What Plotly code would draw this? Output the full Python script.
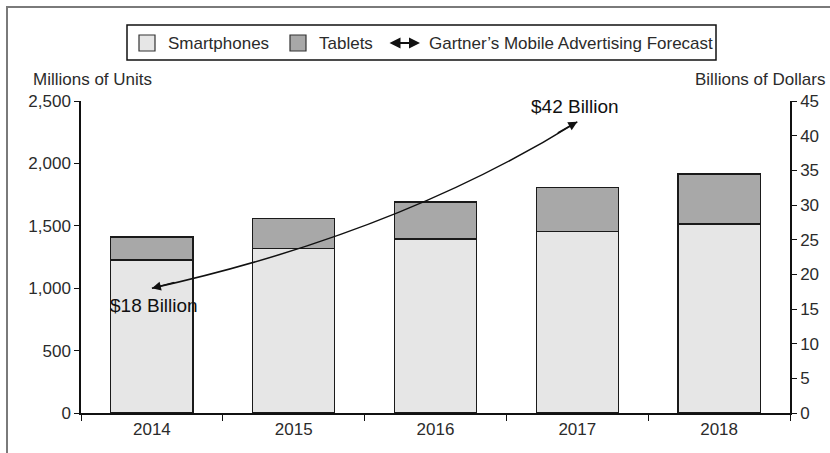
import plotly.graph_objects as go

# Shipments (millions of units) and ad-spend forecast (billions of dollars)
years = ["2014", "2015", "2016", "2017", "2018"]
smartphones = [1225, 1320, 1395, 1455, 1515]
tablets = [185, 240, 295, 350, 400]
forecast_years = ["2014", "2017"]
forecast_billions = [18, 42]

W, H = 830, 453
ML, MR, MT, MB = 81, 40, 101, 40
PW, PH = W - ML - MR, H - MT - MB

FONT = "Liberation Sans, Arial, sans-serif"
TXT = "#2b2b2b"
SMART_FILL = "#e6e6e6"
TAB_FILL = "#a8a8a8"
EDGE = "#1a1a1a"
INK = "#111"


def px(x):
    """pixel column -> paper x"""
    return (x - ML) / PW


def py(y):
    """pixel row -> paper y"""
    return (H - MB - y) / PH


fig = go.Figure()
fig.add_bar(x=years, y=smartphones, name="Smartphones", width=0.58,
            marker=dict(color=SMART_FILL, line=dict(color=EDGE, width=1.3)),
            showlegend=False)
fig.add_bar(x=years, y=tablets, name="Tablets", width=0.58,
            marker=dict(color=TAB_FILL, line=dict(color=EDGE, width=1.3)),
            showlegend=False)
# invisible trace that activates the right-hand dollar axis
fig.add_scatter(x=forecast_years, y=forecast_billions, yaxis="y2", mode="lines",
                line=dict(width=0), hoverinfo="skip", showlegend=False)

# curved forecast arrow between the two forecast points (index positions on the category axis)
x0 = years.index(forecast_years[0])
x1 = years.index(forecast_years[1])
y0, y1 = forecast_billions
cx, cy = x0 + 0.58 * (x1 - x0), y0 + 0.33 * (y1 - y0)   # bend toward lower right
shapes = [dict(type="path", xref="x", yref="y2",
               path=f"M {x0},{y0} Q {cx},{cy} {x1},{y1}",
               line=dict(color=INK, width=1.5))]

head = dict(text="", showarrow=True, arrowhead=2, arrowsize=1.2, arrowwidth=1.5,
            arrowcolor=INK, standoff=0, font=dict(size=1))
annotations = [
    dict(x=x0, y=y0, xref="x", yref="y2", ax=24, ay=-6, **head),
    dict(x=x1, y=y1, xref="x", yref="y2", ax=-21, ay=12, **head),
    dict(x=x0, y=y0, xref="x", yref="y2", text=f"${y0} Billion",
         showarrow=False, yshift=-17, xshift=2, font=dict(size=19, color=INK)),
    dict(x=x1, y=y1, xref="x", yref="y2", text=f"${y1} Billion",
         showarrow=False, yshift=15, xshift=-2, font=dict(size=19, color=INK)),
    # axis captions
    dict(x=px(31), y=py(79), xref="paper", yref="paper", text="Millions of Units",
         showarrow=False, xanchor="left", yanchor="middle", font=dict(size=17, color=TXT)),
    dict(x=px(827), y=py(79), xref="paper", yref="paper", text="Billions of Dollars",
         showarrow=False, xanchor="right", yanchor="middle", font=dict(size=17, color=TXT)),
]

# legend drawn as a boxed row
shapes += [
    dict(type="rect", xref="paper", yref="paper", x0=px(127), x1=px(716), y0=py(25), y1=py(60),
         line=dict(color=INK, width=1.5), fillcolor="white"),
    dict(type="rect", xref="paper", yref="paper", x0=px(139), x1=px(155), y0=py(35), y1=py(51),
         line=dict(color="#333", width=1.2), fillcolor=SMART_FILL),
    dict(type="rect", xref="paper", yref="paper", x0=px(290), x1=px(306), y0=py(35), y1=py(51),
         line=dict(color="#333", width=1.2), fillcolor=TAB_FILL),
]
for lx, label in [(166, "Smartphones"), (317, "Tablets"),
                  (427, "Gartner\u2019s Mobile Advertising Forecast")]:
    annotations.append(dict(x=px(lx), y=py(43), xref="paper", yref="paper", text=label,
                            showarrow=False, xanchor="left", yanchor="middle",
                            font=dict(size=17, color=TXT)))
# double-headed legend key
annotations.append(dict(x=px(420), y=py(43), xref="paper", yref="paper", ax=-32, ay=0,
                        text="", showarrow=True, arrowside="end+start", arrowhead=2,
                        startarrowhead=2, arrowsize=1.1, startarrowsize=1.1, arrowwidth=2,
                        arrowcolor=INK, standoff=0, startstandoff=0, font=dict(size=1)))

# outer frame
shapes.append(dict(type="rect", xref="paper", yref="paper", x0=px(7), x1=px(845),
                   y0=py(470), y1=py(7), line=dict(color="#7a7a7a", width=2),
                   fillcolor="rgba(0,0,0,0)", layer="below"))

axis_common = dict(showline=True, linecolor=INK, linewidth=1.5, ticks="outside",
                   tickcolor=INK, tickwidth=1.3, showgrid=False, zeroline=False,
                   tickfont=dict(size=17, color=TXT))

fig.update_layout(
    width=W, height=H, margin=dict(l=ML, r=MR, t=MT, b=MB),
    paper_bgcolor="white", plot_bgcolor="white",
    barmode="stack", bargap=0.42,
    font=dict(family=FONT, color=TXT),
    xaxis=dict(**axis_common, type="category", range=[-0.5, 4.5], tickson="boundaries",
               ticklen=6),
    yaxis=dict(**axis_common, range=[0, 2500], dtick=500, tickformat=",", ticklen=5),
    yaxis2=dict(**axis_common, range=[0, 45], dtick=5, ticklen=5, overlaying="y",
                side="right"),
    shapes=shapes, annotations=annotations, showlegend=False,
)

fig.write_html("out.html")
